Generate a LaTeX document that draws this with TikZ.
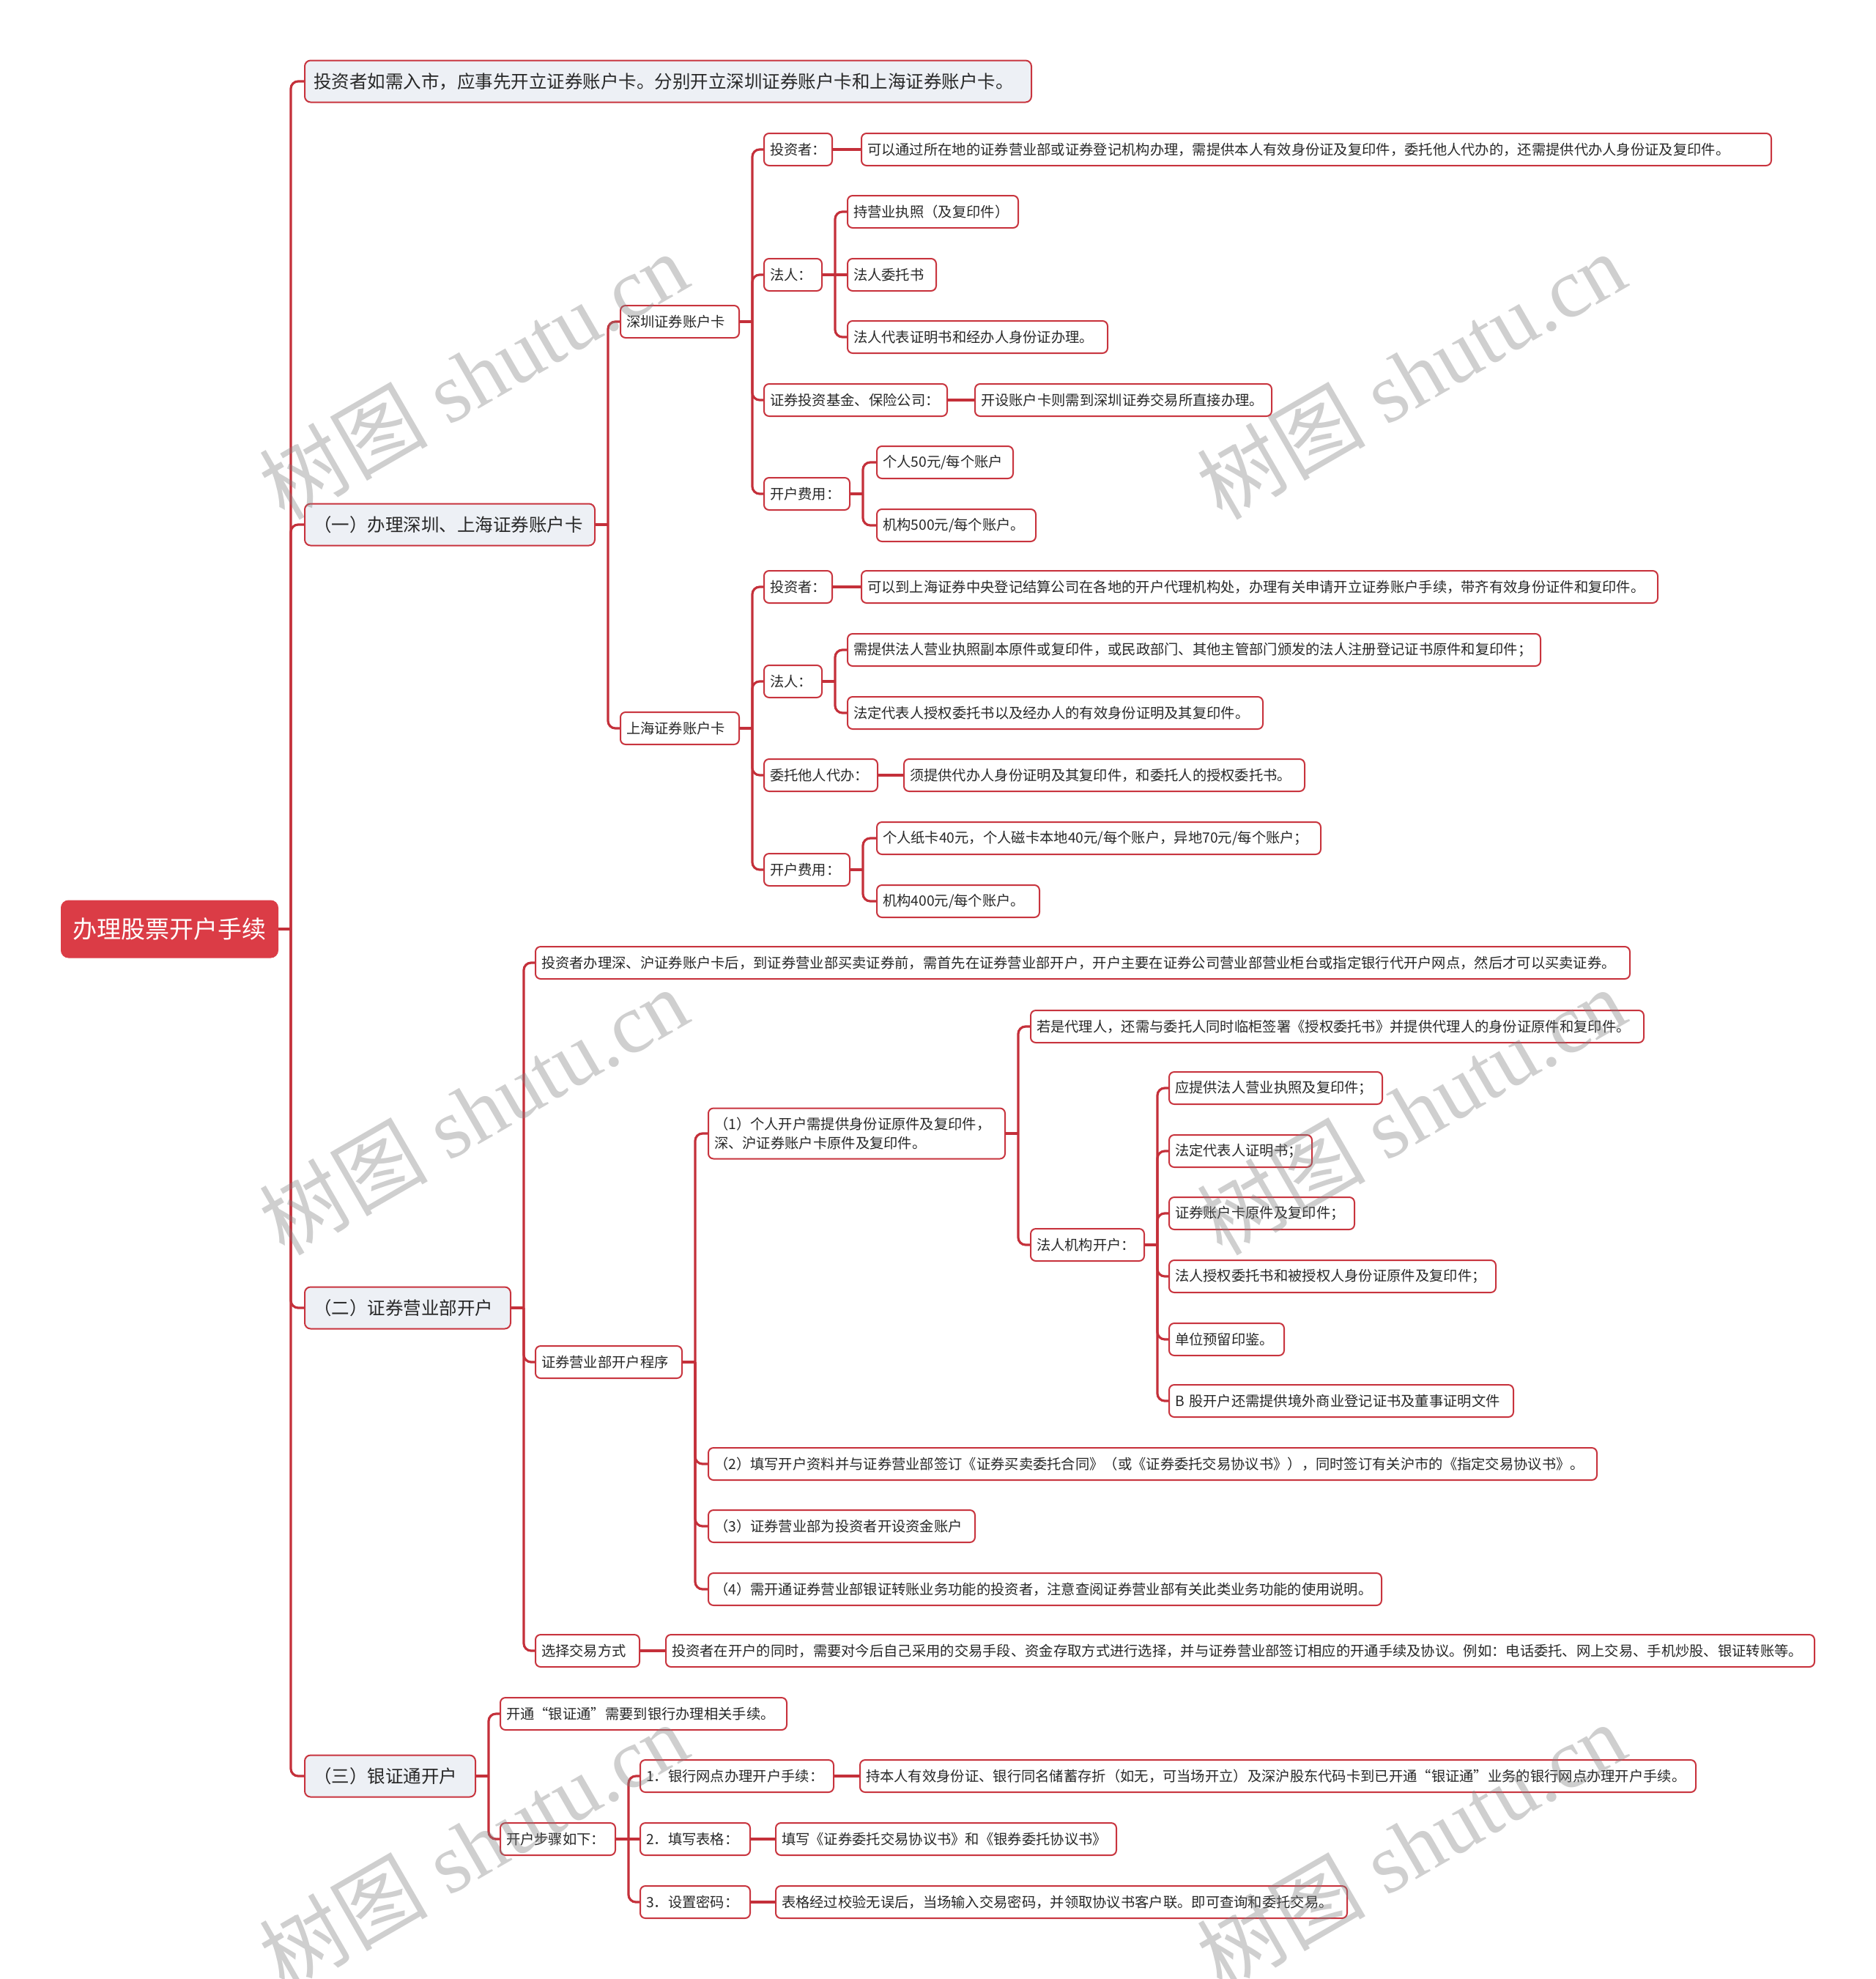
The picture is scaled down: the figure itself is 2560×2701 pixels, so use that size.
\documentclass[tikz,border=0pt]{standalone}
\usepackage{fontspec}
\setmainfont{Liberation Serif}
\newfontfamily\cjk{Noto Sans CJK SC}
\definecolor{lc}{RGB}{196,48,58}
\definecolor{bc}{RGB}{200,52,62}
\definecolor{rootfill}{RGB}{219,60,70}
\definecolor{lonefill}{RGB}{237,240,245}
\definecolor{tc}{RGB}{40,40,40}
\pgfdeclarelayer{bg}
\pgfsetlayers{bg,main}
\tikzset{
  conn/.style={draw=lc, line width=3.2pt, rounded corners=10pt},
  leaf/.style={draw=bc, line width=2pt, fill=white, rounded corners=7pt, anchor=west,
    inner xsep=8pt, inner ysep=0pt, minimum height=44pt, align=left, text=tc,
    font=\cjk\fontsize{19.3}{26}\selectfont},
  lone/.style={leaf, fill=lonefill, minimum height=57pt, inner xsep=12pt, rounded corners=8pt,
    font=\cjk\fontsize{24.5}{30}\selectfont},
  rootn/.style={draw=rootfill, fill=rootfill, line width=1pt, rounded corners=10pt, anchor=west,
    minimum width=296pt, minimum height=78pt, inner sep=0pt, text=white,
    font=\cjk\fontsize{33}{40}\selectfont},
  wm/.style={rotate=30, text=black!50, text opacity=0.38, inner sep=0pt,
    font=\fontsize{115}{120}\selectfont}
}
\begin{document}
\begin{tikzpicture}[x=1pt,y=-1pt]
\useasboundingbox (0,0) rectangle (2560,2701);
% root
\node[rootn] (root) at (83,1268) {办理股票开户手续};
% level 1
\node[lone, text width=968pt] (a1) at (415,111) {投资者如需入市，应事先开立证券账户卡。分别开立深圳证券账户卡和上海证券账户卡。};
\node[lone, text width=372pt] (a2) at (415,716) {（一）办理深圳、上海证券账户卡};
\node[lone, text width=257pt] (a3) at (415,1785) {（二）证券营业部开户};
\node[lone, text width=209pt] (a4) at (415,2424) {（三）银证通开户};
% level 2 under a2
\node[leaf, text width=146pt] (b1) at (846,439) {深圳证券账户卡};
\node[leaf, text width=146pt] (b2) at (846,994) {上海证券账户卡};
% under b1
\node[leaf, text width=77pt] (b1inv) at (1042,204) {投资者：};
\node[leaf, text width=1226pt] (b1invt) at (1175,204) {可以通过所在地的证券营业部或证券登记机构办理，需提供本人有效身份证及复印件，委托他人代办的，还需提供代办人身份证及复印件。};
\node[leaf, text width=63pt] (b1fr) at (1042,375) {法人：};
\node[leaf, text width=217pt] (b1fr1) at (1156,289) {持营业执照（及复印件）};
\node[leaf, text width=105pt] (b1fr2) at (1156,375) {法人委托书};
\node[leaf, text width=339pt] (b1fr3) at (1156,460) {法人代表证明书和经办人身份证办理。};
\node[leaf, text width=234pt] (b1fund) at (1042,546) {证券投资基金、保险公司：};
\node[leaf, text width=389pt] (b1fundt) at (1330,546) {开设账户卡则需到深圳证券交易所直接办理。};
\node[leaf, text width=101pt] (b1fee) at (1042,674) {开户费用：};
\node[leaf, text width=170pt] (b1fee1) at (1196,631) {个人50元/每个账户};
\node[leaf, text width=201pt] (b1fee2) at (1196,717) {机构500元/每个账户。};
% under b2
\node[leaf, text width=77pt] (b2inv) at (1042,801) {投资者：};
\node[leaf, text width=1071pt] (b2invt) at (1175,801) {可以到上海证券中央登记结算公司在各地的开户代理机构处，办理有关申请开立证券账户手续，带齐有效身份证件和复印件。};
\node[leaf, text width=63pt] (b2fr) at (1042,930) {法人：};
\node[leaf, text width=930pt] (b2fr1) at (1156,887) {需提供法人营业执照副本原件或复印件，或民政部门、其他主管部门颁发的法人注册登记证书原件和复印件；};
\node[leaf, text width=551pt] (b2fr2) at (1156,973) {法定代表人授权委托书以及经办人的有效身份证明及其复印件。};
\node[leaf, text width=139pt] (b2ag) at (1042,1058) {委托他人代办：};
\node[leaf, text width=531pt] (b2agt) at (1233,1058) {须提供代办人身份证明及其复印件，和委托人的授权委托书。};
\node[leaf, text width=101pt] (b2fee) at (1042,1187) {开户费用：};
\node[leaf, text width=590pt] (b2fee1) at (1196,1144) {个人纸卡40元，个人磁卡本地40元/每个账户，异地70元/每个账户；};
\node[leaf, text width=206pt] (b2fee2) at (1196,1230) {机构400元/每个账户。};
% under a3
\node[leaf, text width=1478pt] (a3t) at (730,1314) {投资者办理深、沪证券账户卡后，到证券营业部买卖证券前，需首先在证券营业部开户，开户主要在证券公司营业部营业柜台或指定银行代开户网点，然后才可以买卖证券。};
\node[leaf, text width=184pt] (a3p) at (730,1859) {证券营业部开户程序};
\node[leaf, text width=389pt, minimum height=69pt] (p1) at (966,1547) {（1）个人开户需提供身份证原件及复印件，\\深、沪证券账户卡原件及复印件。};
\node[leaf, text width=821pt] (p1a) at (1406,1401) {若是代理人，还需与委托人同时临柜签署《授权委托书》并提供代理人的身份证原件和复印件。};
\node[leaf, text width=139pt] (p1b) at (1406,1699) {法人机构开户：};
\node[leaf, text width=275pt] (j1) at (1595,1485) {应提供法人营业执照及复印件；};
\node[leaf, text width=179pt] (j2) at (1595,1571) {法定代表人证明书；};
\node[leaf, text width=237pt] (j3) at (1595,1656) {证券账户卡原件及复印件；};
\node[leaf, text width=430pt] (j4) at (1595,1742) {法人授权委托书和被授权人身份证原件及复印件；};
\node[leaf, text width=141pt] (j5) at (1595,1828) {单位预留印鉴。};
\node[leaf, text width=454pt] (j6) at (1595,1912) {B 股开户还需提供境外商业登记证书及董事证明文件};
\node[leaf, text width=1197pt] (p2) at (966,1998) {（2）填写开户资料并与证券营业部签订《证券买卖委托合同》（或《证券委托交易协议书》），同时签订有关沪市的《指定交易协议书》。};
\node[leaf, text width=348pt] (p3) at (966,2083) {（3）证券营业部为投资者开设资金账户};
\node[leaf, text width=903pt] (p4) at (966,2169) {（4）需开通证券营业部银证转账业务功能的投资者，注意查阅证券营业部有关此类业务功能的使用说明。};
\node[leaf, text width=126pt] (a3c) at (730,2253) {选择交易方式};
\node[leaf, text width=1552pt] (a3ct) at (908,2253) {投资者在开户的同时，需要对今后自己采用的交易手段、资金存取方式进行选择，并与证券营业部签订相应的开通手续及协议。例如：电话委托、网上交易、手机炒股、银证转账等。};
% under a4
\node[leaf, text width=375pt] (a4t) at (682,2339) {开通“银证通”需要到银行办理相关手续。};
\node[leaf, text width=141pt] (a4s) at (682,2510) {开户步骤如下：};
\node[leaf, text width=248pt] (s1) at (873,2424) {1．银行网点办理开户手续：};
\node[leaf, text width=1125pt] (s1t) at (1173,2424) {持本人有效身份证、银行同名储蓄存折（如无，可当场开立）及深沪股东代码卡到已开通“银证通”业务的银行网点办理开户手续。};
\node[leaf, text width=134pt] (s2) at (873,2510) {2．填写表格：};
\node[leaf, text width=449pt] (s2t) at (1058,2510) {填写《证券委托交易协议书》和《银券委托协议书》};
\node[leaf, text width=134pt] (s3) at (873,2596) {3．设置密码：};
\node[leaf, text width=764pt] (s3t) at (1058,2596) {表格经过校验无误后，当场输入交易密码，并领取协议书客户联。即可查询和委托交易。};
% connectors
\begin{pgfonlayer}{bg}
\draw[conn] (root.east) -- ++(17,0) coordinate (rt);
\foreach \c in {a1,a2,a3,a4} \draw[conn] (rt) |- (\c.west);
\draw[conn] (a2.east) -- ++(17,0) coordinate (a2t);
\foreach \c in {b1,b2} \draw[conn] (a2t) |- (\c.west);
\draw[conn] (b1.east) -- ++(17,0) coordinate (b1j);
\foreach \c in {b1inv,b1fr,b1fund,b1fee} \draw[conn] (b1j) |- (\c.west);
\draw[conn] (b1inv.east) -- (b1invt.west);
\draw[conn] (b1fr.east) -- (b1fr2.west);
\path (b1fr.east) ++(17,0) coordinate (b1frj);
\foreach \c in {b1fr1,b1fr3} \draw[conn] (b1frj) |- (\c.west);
\draw[conn] (b1fund.east) -- (b1fundt.west);
\draw[conn] (b1fee.east) -- ++(17,0) coordinate (b1feej);
\foreach \c in {b1fee1,b1fee2} \draw[conn] (b1feej) |- (\c.west);
\draw[conn] (b2.east) -- ++(17,0) coordinate (b2j);
\foreach \c in {b2inv,b2fr,b2ag,b2fee} \draw[conn] (b2j) |- (\c.west);
\draw[conn] (b2inv.east) -- (b2invt.west);
\draw[conn] (b2fr.east) -- ++(17,0) coordinate (b2frj);
\foreach \c in {b2fr1,b2fr2} \draw[conn] (b2frj) |- (\c.west);
\draw[conn] (b2ag.east) -- (b2agt.west);
\draw[conn] (b2fee.east) -- ++(17,0) coordinate (b2feej);
\foreach \c in {b2fee1,b2fee2} \draw[conn] (b2feej) |- (\c.west);
\draw[conn] (a3.east) -- ++(17,0) coordinate (a3j);
\foreach \c in {a3t,a3p,a3c} \draw[conn] (a3j) |- (\c.west);
\draw[conn] (a3p.east) -- ++(17,0) coordinate (a3pj);
\foreach \c in {p1,p2,p3,p4} \draw[conn] (a3pj) |- (\c.west);
\draw[conn] (p1.east) -- ++(17,0) coordinate (p1j);
\foreach \c in {p1a,p1b} \draw[conn] (p1j) |- (\c.west);
\draw[conn] (p1b.east) -- ++(17,0) coordinate (p1bj);
\foreach \c in {j1,j2,j3,j4,j5,j6} \draw[conn] (p1bj) |- (\c.west);
\draw[conn] (a3c.east) -- (a3ct.west);
\draw[conn] (a4.east) -- ++(17,0) coordinate (a4j);
\foreach \c in {a4t,a4s} \draw[conn] (a4j) |- (\c.west);
\draw[conn] (a4s.east) -- (s2.west);
\path (a4s.east) ++(17,0) coordinate (a4sj);
\foreach \c in {s1,s3} \draw[conn] (a4sj) |- (\c.west);
\draw[conn] (s1.east) -- (s1t.west);
\draw[conn] (s2.east) -- (s2t.west);
\draw[conn] (s3.east) -- (s3t.west);
\end{pgfonlayer}
% watermarks
\node[wm] (wm1) at (646,512) {{\cjk 树图} shutu.cn};
\node[wm] (wm2) at (1926,512) {{\cjk 树图} shutu.cn};
\node[wm] (wm3) at (646,1516) {{\cjk 树图} shutu.cn};
\node[wm] (wm4) at (1926,1516) {{\cjk 树图} shutu.cn};
\node[wm] (wm5) at (646,2519) {{\cjk 树图} shutu.cn};
\node[wm] (wm6) at (1926,2519) {{\cjk 树图} shutu.cn};
\end{tikzpicture}
\end{document}
